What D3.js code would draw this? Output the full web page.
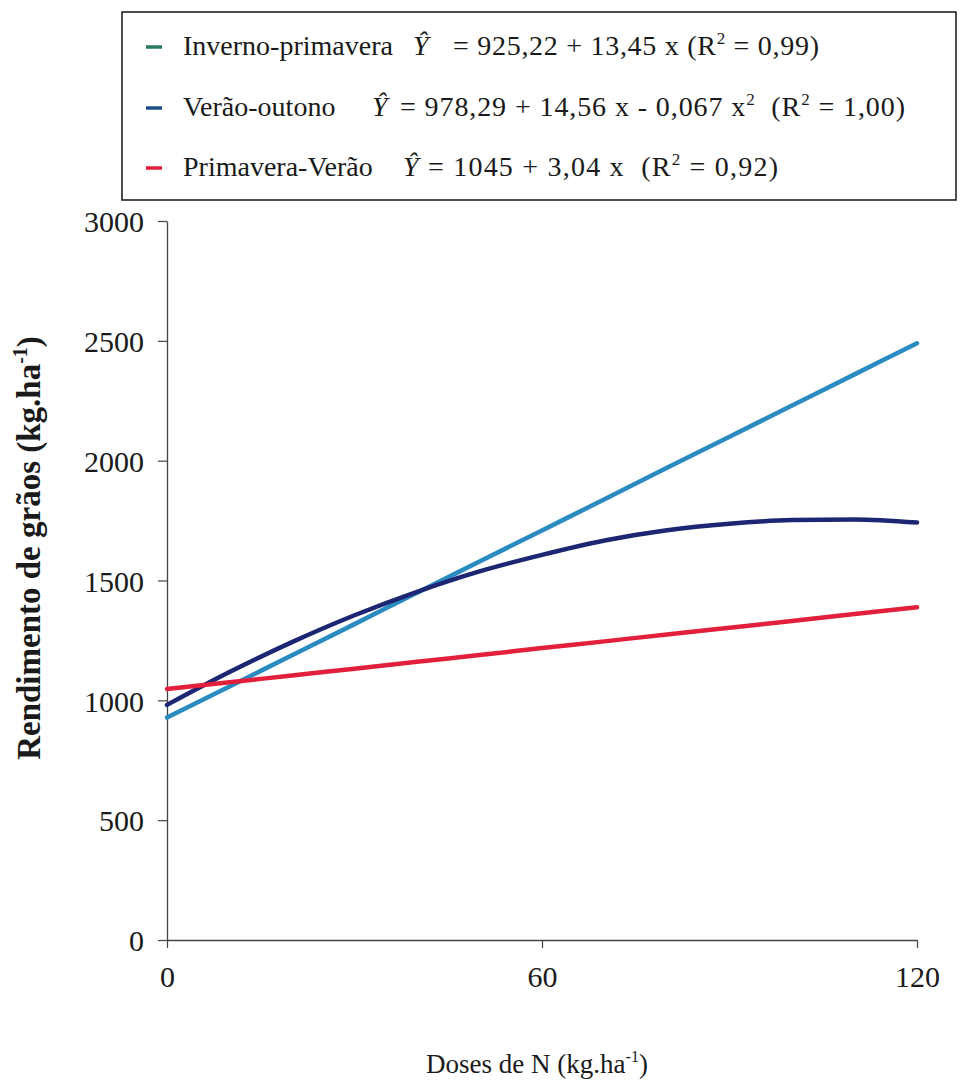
<!DOCTYPE html>
<html>
<head>
<meta charset="utf-8">
<script src="https://cdn.jsdelivr.net/npm/d3@7"></script>
<style>
  body { margin: 0; background: #fff; }
  svg { display: block; }
</style>
</head>
<body>
<svg id="chart" width="961" height="1082"></svg>
<script>
// values (kg/ha at each N dose)
const doses = [0, 10, 20, 30, 40, 50, 60, 70, 80, 90, 100, 110, 120];
const invernoPrimavera = [928, 1058, 1188, 1318, 1449, 1579, 1709, 1839, 1970, 2100, 2230, 2360, 2490];
const veraoOutono = [981, 1118, 1243, 1355, 1453, 1538, 1607, 1667, 1710, 1737, 1752, 1755, 1742];
const primaveraVerao = [1047, 1075, 1104, 1132, 1161, 1189, 1218, 1246, 1275, 1303, 1331, 1360, 1388];

const seriesNames = ["Inverno-primavera", "Verão-outono", "Primavera-Verão"];
const lineColors = ["#2a8bc1", "#1c2672", "#e3203c"];
const markerColors = ["#2b7a5e", "#1f4f8a", "#e3203c"];
const equations = [
    ["= 925,22 + 13,45 x (R", "2", " = 0,99)"],
    ["= 978,29 + 14,56 x - 0,067 x", "2", "  (R", "2", " = 1,00)"],
    ["= 1045 + 3,04 x  (R", "2", " = 0,92)"]
];
const yTicks = [0, 500, 1000, 1500, 2000, 2500, 3000];
const xTicks = [0, 60, 120];

const serif = "'Liberation Serif', 'Times New Roman', serif";
const svg = d3.select("#chart");

const x = d3.scaleLinear().domain([0, 120]).range([167, 917]);
const y = d3.scaleLinear().domain([0, 3000]).range([940, 221]);

// axes
const yAxis = svg.append("g")
    .attr("transform", `translate(${x(0)},0)`)
    .call(d3.axisLeft(y).tickValues(yTicks).tickFormat(d3.format("d"))
        .tickSize(9).tickPadding(14).tickSizeOuter(0));

const xAxis = svg.append("g")
    .attr("transform", `translate(0,${y(0)})`)
    .call(d3.axisBottom(x).tickValues(xTicks).tickFormat(d3.format("d"))
        .tickSize(8).tickPadding(18).tickSizeOuter(0));

[yAxis, xAxis].forEach(g => {
    g.attr("font-family", null).attr("font-size", null);
    g.select(".domain").attr("stroke", "#444").attr("stroke-width", 1.3);
    g.selectAll(".tick line").attr("stroke", "#444").attr("stroke-width", 1.2);
    g.selectAll(".tick text")
        .style("font-family", serif)
        .style("font-size", "30px")
        .attr("fill", "#1a1a1a");
});
yAxis.selectAll(".tick text").attr("dy", "0.36em");

// lines
const line = d3.line()
    .x((d, i) => x(doses[i]))
    .y(d => y(d))
    .curve(d3.curveMonotoneX);

[invernoPrimavera, veraoOutono, primaveraVerao].forEach((vals, i) => {
    svg.append("path")
        .datum(vals)
        .attr("fill", "none")
        .attr("stroke", lineColors[i])
        .attr("stroke-width", 4.5)
        .attr("stroke-linecap", "round")
        .attr("d", line);
});

// axis titles
const yt = svg.append("text")
    .attr("transform", `translate(40,548) rotate(-90)`)
    .attr("text-anchor", "middle")
    .style("font-family", serif)
    .style("font-weight", "bold")
    .style("font-size", "33px")
    .attr("fill", "#1a1a1a");
yt.append("tspan").text("Rendimento de grãos (kg.ha");
yt.append("tspan").attr("dy", -13).style("font-size", "20px").text("-1");
yt.append("tspan").attr("dy", 13).text(")");

const xt = svg.append("text")
    .attr("x", 537).attr("y", 1073)
    .attr("text-anchor", "middle")
    .style("font-family", serif)
    .style("font-size", "27px")
    .attr("fill", "#1a1a1a");
xt.append("tspan").text("Doses de N (kg.ha");
xt.append("tspan").attr("dy", -11).style("font-size", "16px").text("-1");
xt.append("tspan").attr("dy", 11).text(")");

// legend
svg.append("rect")
    .attr("x", 122).attr("y", 12)
    .attr("width", 834).attr("height", 188)
    .attr("fill", "none")
    .attr("stroke", "#222")
    .attr("stroke-width", 1.6);

const rowY = [55, 116, 176];
const hatX = [413, 372, 403];
const eqX = [453, 400, 428];
const eqWidth = [366, 505, 350];

seriesNames.forEach((name, i) => {
    const row = svg.append("g")
        .style("font-family", serif)
        .attr("fill", "#1a1a1a");
    row.append("line")
        .attr("x1", 146).attr("x2", 162)
        .attr("y1", rowY[i] - 8).attr("y2", rowY[i] - 8)
        .attr("stroke", markerColors[i])
        .attr("stroke-width", 3.5);
    row.append("text")
        .attr("x", 183).attr("y", rowY[i])
        .style("font-family", serif)
        .style("font-size", "28px")
        .text(name);
    row.append("text")
        .attr("x", hatX[i]).attr("y", rowY[i])
        .style("font-family", serif)
        .style("font-size", "28px")
        .style("font-style", "italic")
        .text("Ŷ");
    const eq = row.append("text")
        .attr("x", eqX[i]).attr("y", rowY[i])
        .attr("textLength", eqWidth[i])
        .attr("lengthAdjust", "spacing")
        .style("font-family", serif)
        .style("font-size", "28px")
        .style("white-space", "pre");
    equations[i].forEach((part, j) => {
        if (part === "2") {
            eq.append("tspan").attr("dy", -11).style("font-size", "17px").text(part);
        } else {
            eq.append("tspan").attr("dy", j > 0 ? 11 : 0).text(part);
        }
    });
});
</script>
</body>
</html>
